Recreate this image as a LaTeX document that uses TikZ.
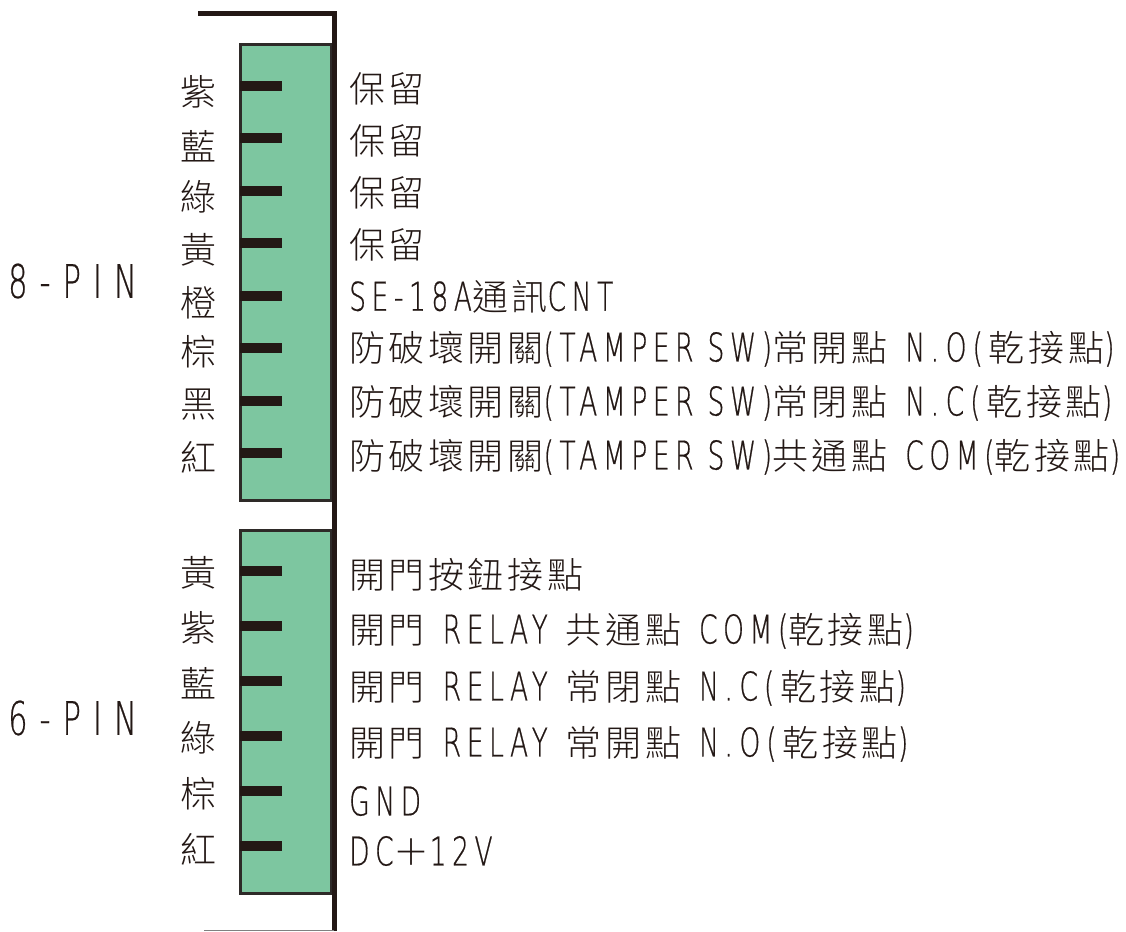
\documentclass[tikz,border=0pt]{standalone}
\usepackage{fontspec}
\newfontfamily\cjk[LetterSpace=10]{Noto Sans CJK TC Light}
\newfontfamily\lat[Scale=1.1,FakeStretch=0.67,LetterSpace=14,FakeBold=0.5]{DejaVu Sans ExtraLight}
\newfontfamily\latwide[Scale=1.1,FakeStretch=0.66,LetterSpace=26,FakeBold=0.5]{DejaVu Sans ExtraLight}
\newcommand{\la}[1]{{\lat #1}}
\newcommand{\wgap}{\hspace{18pt}}
\newcommand{\pargap}{\hspace{6pt}}
\definecolor{BodyGreen}{HTML}{7DC6A0}
\definecolor{InkBlack}{HTML}{231815}
\definecolor{BodyEdge}{HTML}{2E2A28}
\tikzstyle{pin-stub}=[rectangle, inner sep=0pt, minimum width=42pt, minimum height=10pt, fill=InkBlack]
\tikzstyle{body-box}=[rectangle, inner sep=0pt, minimum width=91pt, draw=BodyEdge, line width=3pt, fill=BodyGreen]
\tikzstyle{wire-name}=[inner sep=0pt, anchor=center, text=InkBlack, font=\fontsize{36}{36}\selectfont\cjk]
\tikzstyle{func-name}=[inner sep=0pt, anchor=west, text=InkBlack, font=\fontsize{36}{36}\selectfont\cjk]
\tikzstyle{group-name}=[inner sep=0pt, anchor=west, text=InkBlack, font=\fontsize{42}{42}\selectfont\latwide]
\begin{document}
\begin{tikzpicture}[x=1pt, y=-1pt]
      \useasboundingbox (0,0) rectangle (1126,931);
      \node (body8) at (285.5,272.5) [body-box, minimum height=455pt] {};
      \node (body6) at (285.5,711.5) [body-box, minimum height=363pt] {};

      \coordinate (rail-start) at (198,13.5);
      \coordinate (rail-corner) at (334.3,13.5);
      \coordinate (rail-end) at (334.3,931);
      \coordinate (floor-start) at (204,930);
      \coordinate (floor-end) at (334,930);
      \draw [InkBlack, line width=4.7pt] (rail-start) -- (rail-corner) -- (rail-end);
      \draw [black!50, line width=1pt] (floor-start) -- (floor-end);

      \node (pin8a) at (261,86) [pin-stub] {};
      \node (pin8b) at (261,138) [pin-stub] {};
      \node (pin8c) at (261,191) [pin-stub] {};
      \node (pin8d) at (261,243) [pin-stub] {};
      \node (pin8e) at (261,296) [pin-stub] {};
      \node (pin8f) at (261,348) [pin-stub] {};
      \node (pin8g) at (261,401) [pin-stub] {};
      \node (pin8h) at (261,453) [pin-stub] {};

      \node (pin6a) at (261,571) [pin-stub] {};
      \node (pin6b) at (261,626) [pin-stub] {};
      \node (pin6c) at (261,681) [pin-stub] {};
      \node (pin6d) at (261,736) [pin-stub] {};
      \node (pin6e) at (261,791) [pin-stub] {};
      \node (pin6f) at (261,846) [pin-stub] {};

      \node (group8) at (8,281) [group-name] {8-PIN};
      \node (group6) at (8,718) [group-name] {6-PIN};

      \node (wire8a) at (198,92) [wire-name] {紫};
      \node (wire8b) at (198,146) [wire-name] {藍};
      \node (wire8c) at (198,197) [wire-name] {綠};
      \node (wire8d) at (198,250) [wire-name] {黃};
      \node (wire8e) at (198,303) [wire-name] {橙};
      \node (wire8f) at (198,352) [wire-name] {棕};
      \node (wire8g) at (198,405) [wire-name] {黑};
      \node (wire8h) at (198,457) [wire-name] {紅};

      \node (wire6a) at (198,573) [wire-name] {黃};
      \node (wire6b) at (198,628) [wire-name] {紫};
      \node (wire6c) at (198,683) [wire-name] {藍};
      \node (wire6d) at (198,738) [wire-name] {綠};
      \node (wire6e) at (198,794) [wire-name] {棕};
      \node (wire6f) at (198,849) [wire-name] {紅};

      \node (func8a) at (349,89) [func-name] {保留};
      \node (func8b) at (349,141) [func-name] {保留};
      \node (func8c) at (349,193) [func-name] {保留};
      \node (func8d) at (349,245) [func-name] {保留};
      \node (func8e) at (349,297) [func-name] {\la{SE-18A}通訊\la{CNT}};
      \node (func8f) at (349,349) [func-name] {防破壞開關\la{(TAMPER SW)}常開點\wgap{}\la{N.\,O}\pargap{}\la{(}\pargap{}乾接點\la{)}};
      \node (func8g) at (349,403) [func-name] {防破壞開關\la{(TAMPER SW)}常閉點\wgap{}\la{N.\,C}\pargap{}\la{(}\pargap{}乾接點\la{)}};
      \node (func8h) at (349,457) [func-name] {防破壞開關\la{(TAMPER SW)}共通點\wgap{}\la{COM(}乾接點\la{)}};

      \node (func6a) at (349,575) [func-name] {開門按鈕接點};
      \node (func6b) at (349,631) [func-name] {開門\wgap{}\la{RELAY}\wgap{}共通點\wgap{}\la{COM(}乾接點\la{)}};
      \node (func6c) at (349,688) [func-name] {開門\wgap{}\la{RELAY}\wgap{}常閉點\wgap{}\la{N.\,C}\pargap{}\la{(}\pargap{}乾接點\la{)}};
      \node (func6d) at (349,744) [func-name] {開門\wgap{}\la{RELAY}\wgap{}常開點\wgap{}\la{N.\,O}\pargap{}\la{(}\pargap{}乾接點\la{)}};
      \node (func6e) at (349,801) [func-name] {\la{GND}};
      \node (func6f) at (349,851) [func-name] {\la{DC}＋\la{12V}};
\end{tikzpicture}
\end{document}
